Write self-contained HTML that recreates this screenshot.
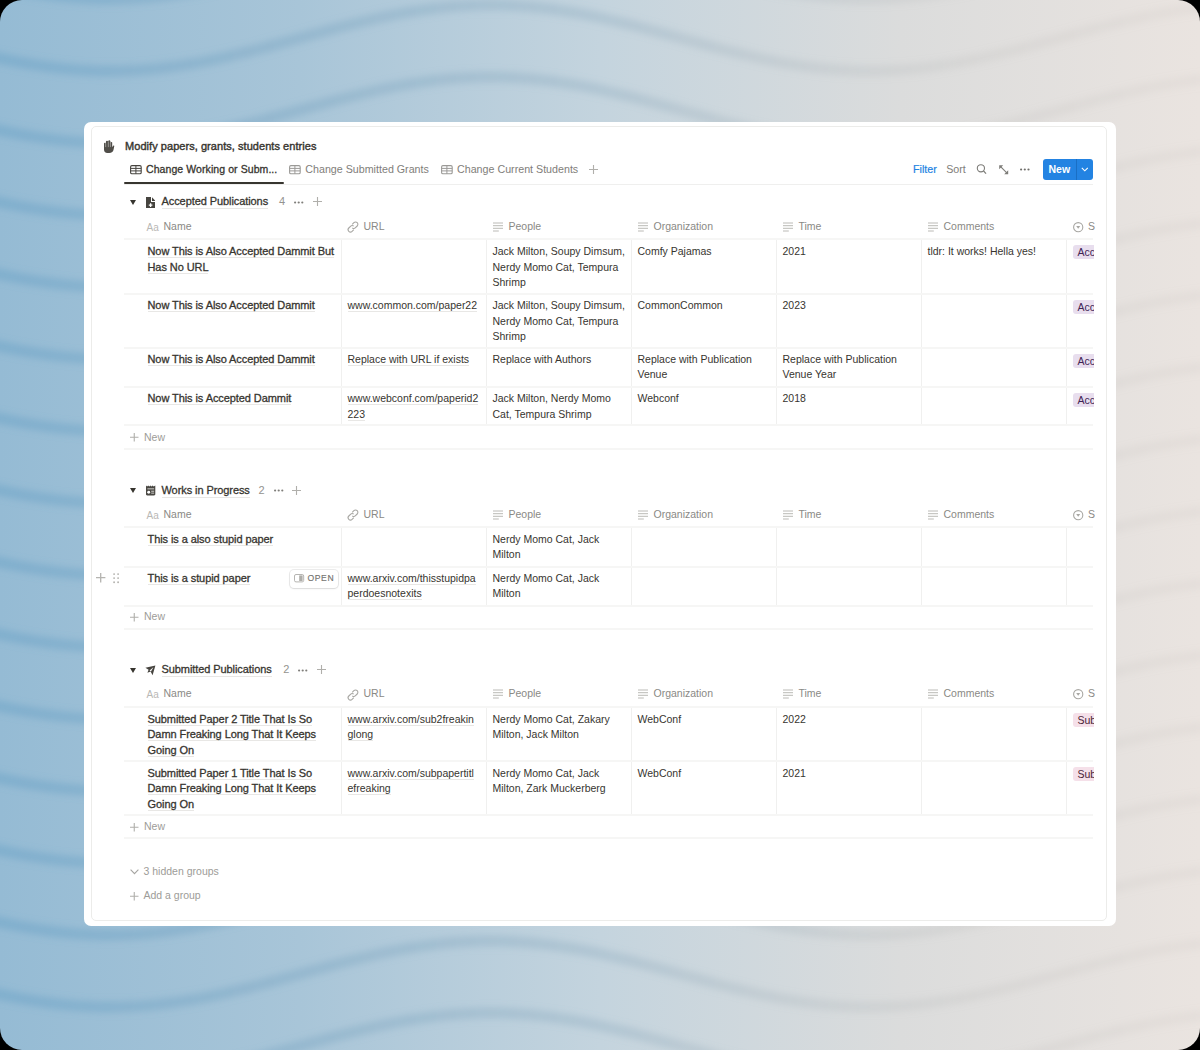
<!DOCTYPE html>
<html><head><meta charset="utf-8"><style>
*{box-sizing:border-box;margin:0;padding:0}
html,body{width:1200px;height:1050px;overflow:hidden;background:#000}
body{font-family:"Liberation Sans",sans-serif;color:#37352f;position:relative}
#frame{position:absolute;left:0;top:0;width:1200px;height:1050px;border-radius:22px;overflow:hidden}
.card{position:absolute;left:84px;top:122px;width:1032px;height:804px;background:#fff;border-radius:7px}
.inner{position:absolute;left:91px;top:126px;width:1016px;height:795px;border:1px solid #ececea;border-radius:5px}
.a{position:absolute;white-space:nowrap}
.t{font-size:10.5px;line-height:15.5px;color:#37352f}
.b{font-size:11px;line-height:15.5px;color:#37352f;-webkit-text-stroke-width:0.3px;letter-spacing:-0.08px}
.g{color:#8a8985}
.ul{border-bottom:1px solid #e8e7e5}
.hl{position:absolute;height:2px;background:#f6f6f5}
.vl{position:absolute;width:1px;background:#f0f0ef}
.tag{position:absolute;height:14px;border-radius:3px 0 0 3px;font-size:10.5px;line-height:14px;padding-left:5px;white-space:nowrap;overflow:hidden}
svg.i{position:absolute;overflow:visible}
</style></head>
<body><div id="frame"><svg width="1200" height="1050" viewBox="0 0 1200 1050" style="position:absolute;left:0;top:0">
<defs>
<linearGradient id="g" x1="0" y1="0" x2="1" y2="0">
<stop offset="0" stop-color="#95bbd4"/>
<stop offset="0.25" stop-color="#a8c5d8"/>
<stop offset="0.5" stop-color="#c4d4de"/>
<stop offset="0.75" stop-color="#dbdcdc"/>
<stop offset="1" stop-color="#eae4e0"/>
</linearGradient>
<linearGradient id="wg" x1="0" y1="0" x2="1" y2="0">
<stop offset="0" stop-color="#5f9cc4" stop-opacity="0.40"/>
<stop offset="0.5" stop-color="#7fa0b6" stop-opacity="0.28"/>
<stop offset="0.8" stop-color="#a8a8a6" stop-opacity="0.14"/>
<stop offset="1" stop-color="#b8b0aa" stop-opacity="0.10"/>
</linearGradient>
<filter id="bl" x="-5%" y="-5%" width="110%" height="110%"><feGaussianBlur stdDeviation="3.6"/></filter>
</defs>
<rect width="1200" height="1050" fill="url(#g)"/>
<g fill="none" stroke="url(#wg)" stroke-width="11" filter="url(#bl)"><path d="M-20,-18.3 L-10,-16.0 L0,-13.7 L10,-11.6 L20,-9.7 L30,-8.0 L40,-6.4 L50,-5.0 L60,-3.8 L70,-2.8 L80,-2.0 L90,-1.5 L100,-1.1 L110,-1.0 L120,-1.1 L130,-1.5 L140,-2.0 L150,-2.8 L160,-3.8 L170,-5.0 L180,-6.4 L190,-8.0 L200,-9.7 L210,-11.6 L220,-13.7 L230,-16.0 L240,-18.3 L250,-20.7 L260,-23.3 L270,-25.9 L280,-28.6 L290,-31.3 L300,-34.0 L310,-36.7 L320,-39.4 L330,-42.1 L340,-44.7 L350,-47.3 L360,-49.7 L370,-52.0 L380,-54.3 L390,-56.4 L400,-58.3 L410,-60.0 L420,-61.6 L430,-63.0 L440,-64.2 L450,-65.2 L460,-66.0 L470,-66.5 L480,-66.9 L490,-67.0 L500,-66.9 L510,-66.5 L520,-66.0 L530,-65.2 L540,-64.2 L550,-63.0 L560,-61.6 L570,-60.0 L580,-58.3 L590,-56.4 L600,-54.3 L610,-52.0 L620,-49.7 L630,-47.3 L640,-44.7 L650,-42.1 L660,-39.4 L670,-36.7 L680,-34.0 L690,-31.3 L700,-28.6 L710,-25.9 L720,-23.3 L730,-20.7 L740,-18.3 L750,-16.0 L760,-13.7 L770,-11.6 L780,-9.7 L790,-8.0 L800,-6.4 L810,-5.0 L820,-3.8 L830,-2.8 L840,-2.0 L850,-1.5 L860,-1.1 L870,-1.0 L880,-1.1 L890,-1.5 L900,-2.0 L910,-2.8 L920,-3.8 L930,-5.0 L940,-6.4 L950,-8.0 L960,-9.7 L970,-11.6 L980,-13.7 L990,-16.0 L1000,-18.3 L1010,-20.7 L1020,-23.3 L1030,-25.9 L1040,-28.6 L1050,-31.3 L1060,-34.0 L1070,-36.7 L1080,-39.4 L1090,-42.1 L1100,-44.7 L1110,-47.3 L1120,-49.7 L1130,-52.0 L1140,-54.3 L1150,-56.4 L1160,-58.3 L1170,-60.0 L1180,-61.6 L1190,-63.0 L1200,-64.2 L1210,-65.2 L1220,-66.0"/><path d="M-20,53.7 L-10,56.0 L0,58.3 L10,60.4 L20,62.3 L30,64.0 L40,65.6 L50,67.0 L60,68.2 L70,69.2 L80,70.0 L90,70.5 L100,70.9 L110,71.0 L120,70.9 L130,70.5 L140,70.0 L150,69.2 L160,68.2 L170,67.0 L180,65.6 L190,64.0 L200,62.3 L210,60.4 L220,58.3 L230,56.0 L240,53.7 L250,51.3 L260,48.7 L270,46.1 L280,43.4 L290,40.7 L300,38.0 L310,35.3 L320,32.6 L330,29.9 L340,27.3 L350,24.7 L360,22.3 L370,20.0 L380,17.7 L390,15.6 L400,13.7 L410,12.0 L420,10.4 L430,9.0 L440,7.8 L450,6.8 L460,6.0 L470,5.5 L480,5.1 L490,5.0 L500,5.1 L510,5.5 L520,6.0 L530,6.8 L540,7.8 L550,9.0 L560,10.4 L570,12.0 L580,13.7 L590,15.6 L600,17.7 L610,20.0 L620,22.3 L630,24.7 L640,27.3 L650,29.9 L660,32.6 L670,35.3 L680,38.0 L690,40.7 L700,43.4 L710,46.1 L720,48.7 L730,51.3 L740,53.7 L750,56.0 L760,58.3 L770,60.4 L780,62.3 L790,64.0 L800,65.6 L810,67.0 L820,68.2 L830,69.2 L840,70.0 L850,70.5 L860,70.9 L870,71.0 L880,70.9 L890,70.5 L900,70.0 L910,69.2 L920,68.2 L930,67.0 L940,65.6 L950,64.0 L960,62.3 L970,60.4 L980,58.3 L990,56.0 L1000,53.7 L1010,51.3 L1020,48.7 L1030,46.1 L1040,43.4 L1050,40.7 L1060,38.0 L1070,35.3 L1080,32.6 L1090,29.9 L1100,27.3 L1110,24.7 L1120,22.3 L1130,20.0 L1140,17.7 L1150,15.6 L1160,13.7 L1170,12.0 L1180,10.4 L1190,9.0 L1200,7.8 L1210,6.8 L1220,6.0"/><path d="M-20,125.7 L-10,128.0 L0,130.3 L10,132.4 L20,134.3 L30,136.0 L40,137.6 L50,139.0 L60,140.2 L70,141.2 L80,142.0 L90,142.5 L100,142.9 L110,143.0 L120,142.9 L130,142.5 L140,142.0 L150,141.2 L160,140.2 L170,139.0 L180,137.6 L190,136.0 L200,134.3 L210,132.4 L220,130.3 L230,128.0 L240,125.7 L250,123.3 L260,120.7 L270,118.1 L280,115.4 L290,112.7 L300,110.0 L310,107.3 L320,104.6 L330,101.9 L340,99.3 L350,96.7 L360,94.3 L370,92.0 L380,89.7 L390,87.6 L400,85.7 L410,84.0 L420,82.4 L430,81.0 L440,79.8 L450,78.8 L460,78.0 L470,77.5 L480,77.1 L490,77.0 L500,77.1 L510,77.5 L520,78.0 L530,78.8 L540,79.8 L550,81.0 L560,82.4 L570,84.0 L580,85.7 L590,87.6 L600,89.7 L610,92.0 L620,94.3 L630,96.7 L640,99.3 L650,101.9 L660,104.6 L670,107.3 L680,110.0 L690,112.7 L700,115.4 L710,118.1 L720,120.7 L730,123.3 L740,125.7 L750,128.0 L760,130.3 L770,132.4 L780,134.3 L790,136.0 L800,137.6 L810,139.0 L820,140.2 L830,141.2 L840,142.0 L850,142.5 L860,142.9 L870,143.0 L880,142.9 L890,142.5 L900,142.0 L910,141.2 L920,140.2 L930,139.0 L940,137.6 L950,136.0 L960,134.3 L970,132.4 L980,130.3 L990,128.0 L1000,125.7 L1010,123.3 L1020,120.7 L1030,118.1 L1040,115.4 L1050,112.7 L1060,110.0 L1070,107.3 L1080,104.6 L1090,101.9 L1100,99.3 L1110,96.7 L1120,94.3 L1130,92.0 L1140,89.7 L1150,87.6 L1160,85.7 L1170,84.0 L1180,82.4 L1190,81.0 L1200,79.8 L1210,78.8 L1220,78.0"/><path d="M-20,197.7 L-10,200.0 L0,202.3 L10,204.4 L20,206.3 L30,208.0 L40,209.6 L50,211.0 L60,212.2 L70,213.2 L80,214.0 L90,214.5 L100,214.9 L110,215.0 L120,214.9 L130,214.5 L140,214.0 L150,213.2 L160,212.2 L170,211.0 L180,209.6 L190,208.0 L200,206.3 L210,204.4 L220,202.3 L230,200.0 L240,197.7 L250,195.3 L260,192.7 L270,190.1 L280,187.4 L290,184.7 L300,182.0 L310,179.3 L320,176.6 L330,173.9 L340,171.3 L350,168.7 L360,166.3 L370,164.0 L380,161.7 L390,159.6 L400,157.7 L410,156.0 L420,154.4 L430,153.0 L440,151.8 L450,150.8 L460,150.0 L470,149.5 L480,149.1 L490,149.0 L500,149.1 L510,149.5 L520,150.0 L530,150.8 L540,151.8 L550,153.0 L560,154.4 L570,156.0 L580,157.7 L590,159.6 L600,161.7 L610,164.0 L620,166.3 L630,168.7 L640,171.3 L650,173.9 L660,176.6 L670,179.3 L680,182.0 L690,184.7 L700,187.4 L710,190.1 L720,192.7 L730,195.3 L740,197.7 L750,200.0 L760,202.3 L770,204.4 L780,206.3 L790,208.0 L800,209.6 L810,211.0 L820,212.2 L830,213.2 L840,214.0 L850,214.5 L860,214.9 L870,215.0 L880,214.9 L890,214.5 L900,214.0 L910,213.2 L920,212.2 L930,211.0 L940,209.6 L950,208.0 L960,206.3 L970,204.4 L980,202.3 L990,200.0 L1000,197.7 L1010,195.3 L1020,192.7 L1030,190.1 L1040,187.4 L1050,184.7 L1060,182.0 L1070,179.3 L1080,176.6 L1090,173.9 L1100,171.3 L1110,168.7 L1120,166.3 L1130,164.0 L1140,161.7 L1150,159.6 L1160,157.7 L1170,156.0 L1180,154.4 L1190,153.0 L1200,151.8 L1210,150.8 L1220,150.0"/><path d="M-20,269.7 L-10,272.0 L0,274.3 L10,276.4 L20,278.3 L30,280.0 L40,281.6 L50,283.0 L60,284.2 L70,285.2 L80,286.0 L90,286.5 L100,286.9 L110,287.0 L120,286.9 L130,286.5 L140,286.0 L150,285.2 L160,284.2 L170,283.0 L180,281.6 L190,280.0 L200,278.3 L210,276.4 L220,274.3 L230,272.0 L240,269.7 L250,267.3 L260,264.7 L270,262.1 L280,259.4 L290,256.7 L300,254.0 L310,251.3 L320,248.6 L330,245.9 L340,243.3 L350,240.7 L360,238.3 L370,236.0 L380,233.7 L390,231.6 L400,229.7 L410,228.0 L420,226.4 L430,225.0 L440,223.8 L450,222.8 L460,222.0 L470,221.5 L480,221.1 L490,221.0 L500,221.1 L510,221.5 L520,222.0 L530,222.8 L540,223.8 L550,225.0 L560,226.4 L570,228.0 L580,229.7 L590,231.6 L600,233.7 L610,236.0 L620,238.3 L630,240.7 L640,243.3 L650,245.9 L660,248.6 L670,251.3 L680,254.0 L690,256.7 L700,259.4 L710,262.1 L720,264.7 L730,267.3 L740,269.7 L750,272.0 L760,274.3 L770,276.4 L780,278.3 L790,280.0 L800,281.6 L810,283.0 L820,284.2 L830,285.2 L840,286.0 L850,286.5 L860,286.9 L870,287.0 L880,286.9 L890,286.5 L900,286.0 L910,285.2 L920,284.2 L930,283.0 L940,281.6 L950,280.0 L960,278.3 L970,276.4 L980,274.3 L990,272.0 L1000,269.7 L1010,267.3 L1020,264.7 L1030,262.1 L1040,259.4 L1050,256.7 L1060,254.0 L1070,251.3 L1080,248.6 L1090,245.9 L1100,243.3 L1110,240.7 L1120,238.3 L1130,236.0 L1140,233.7 L1150,231.6 L1160,229.7 L1170,228.0 L1180,226.4 L1190,225.0 L1200,223.8 L1210,222.8 L1220,222.0"/><path d="M-20,341.7 L-10,344.0 L0,346.3 L10,348.4 L20,350.3 L30,352.0 L40,353.6 L50,355.0 L60,356.2 L70,357.2 L80,358.0 L90,358.5 L100,358.9 L110,359.0 L120,358.9 L130,358.5 L140,358.0 L150,357.2 L160,356.2 L170,355.0 L180,353.6 L190,352.0 L200,350.3 L210,348.4 L220,346.3 L230,344.0 L240,341.7 L250,339.3 L260,336.7 L270,334.1 L280,331.4 L290,328.7 L300,326.0 L310,323.3 L320,320.6 L330,317.9 L340,315.3 L350,312.7 L360,310.3 L370,308.0 L380,305.7 L390,303.6 L400,301.7 L410,300.0 L420,298.4 L430,297.0 L440,295.8 L450,294.8 L460,294.0 L470,293.5 L480,293.1 L490,293.0 L500,293.1 L510,293.5 L520,294.0 L530,294.8 L540,295.8 L550,297.0 L560,298.4 L570,300.0 L580,301.7 L590,303.6 L600,305.7 L610,308.0 L620,310.3 L630,312.7 L640,315.3 L650,317.9 L660,320.6 L670,323.3 L680,326.0 L690,328.7 L700,331.4 L710,334.1 L720,336.7 L730,339.3 L740,341.7 L750,344.0 L760,346.3 L770,348.4 L780,350.3 L790,352.0 L800,353.6 L810,355.0 L820,356.2 L830,357.2 L840,358.0 L850,358.5 L860,358.9 L870,359.0 L880,358.9 L890,358.5 L900,358.0 L910,357.2 L920,356.2 L930,355.0 L940,353.6 L950,352.0 L960,350.3 L970,348.4 L980,346.3 L990,344.0 L1000,341.7 L1010,339.3 L1020,336.7 L1030,334.1 L1040,331.4 L1050,328.7 L1060,326.0 L1070,323.3 L1080,320.6 L1090,317.9 L1100,315.3 L1110,312.7 L1120,310.3 L1130,308.0 L1140,305.7 L1150,303.6 L1160,301.7 L1170,300.0 L1180,298.4 L1190,297.0 L1200,295.8 L1210,294.8 L1220,294.0"/><path d="M-20,413.7 L-10,416.0 L0,418.3 L10,420.4 L20,422.3 L30,424.0 L40,425.6 L50,427.0 L60,428.2 L70,429.2 L80,430.0 L90,430.5 L100,430.9 L110,431.0 L120,430.9 L130,430.5 L140,430.0 L150,429.2 L160,428.2 L170,427.0 L180,425.6 L190,424.0 L200,422.3 L210,420.4 L220,418.3 L230,416.0 L240,413.7 L250,411.3 L260,408.7 L270,406.1 L280,403.4 L290,400.7 L300,398.0 L310,395.3 L320,392.6 L330,389.9 L340,387.3 L350,384.7 L360,382.3 L370,380.0 L380,377.7 L390,375.6 L400,373.7 L410,372.0 L420,370.4 L430,369.0 L440,367.8 L450,366.8 L460,366.0 L470,365.5 L480,365.1 L490,365.0 L500,365.1 L510,365.5 L520,366.0 L530,366.8 L540,367.8 L550,369.0 L560,370.4 L570,372.0 L580,373.7 L590,375.6 L600,377.7 L610,380.0 L620,382.3 L630,384.7 L640,387.3 L650,389.9 L660,392.6 L670,395.3 L680,398.0 L690,400.7 L700,403.4 L710,406.1 L720,408.7 L730,411.3 L740,413.7 L750,416.0 L760,418.3 L770,420.4 L780,422.3 L790,424.0 L800,425.6 L810,427.0 L820,428.2 L830,429.2 L840,430.0 L850,430.5 L860,430.9 L870,431.0 L880,430.9 L890,430.5 L900,430.0 L910,429.2 L920,428.2 L930,427.0 L940,425.6 L950,424.0 L960,422.3 L970,420.4 L980,418.3 L990,416.0 L1000,413.7 L1010,411.3 L1020,408.7 L1030,406.1 L1040,403.4 L1050,400.7 L1060,398.0 L1070,395.3 L1080,392.6 L1090,389.9 L1100,387.3 L1110,384.7 L1120,382.3 L1130,380.0 L1140,377.7 L1150,375.6 L1160,373.7 L1170,372.0 L1180,370.4 L1190,369.0 L1200,367.8 L1210,366.8 L1220,366.0"/><path d="M-20,485.7 L-10,488.0 L0,490.3 L10,492.4 L20,494.3 L30,496.0 L40,497.6 L50,499.0 L60,500.2 L70,501.2 L80,502.0 L90,502.5 L100,502.9 L110,503.0 L120,502.9 L130,502.5 L140,502.0 L150,501.2 L160,500.2 L170,499.0 L180,497.6 L190,496.0 L200,494.3 L210,492.4 L220,490.3 L230,488.0 L240,485.7 L250,483.3 L260,480.7 L270,478.1 L280,475.4 L290,472.7 L300,470.0 L310,467.3 L320,464.6 L330,461.9 L340,459.3 L350,456.7 L360,454.3 L370,452.0 L380,449.7 L390,447.6 L400,445.7 L410,444.0 L420,442.4 L430,441.0 L440,439.8 L450,438.8 L460,438.0 L470,437.5 L480,437.1 L490,437.0 L500,437.1 L510,437.5 L520,438.0 L530,438.8 L540,439.8 L550,441.0 L560,442.4 L570,444.0 L580,445.7 L590,447.6 L600,449.7 L610,452.0 L620,454.3 L630,456.7 L640,459.3 L650,461.9 L660,464.6 L670,467.3 L680,470.0 L690,472.7 L700,475.4 L710,478.1 L720,480.7 L730,483.3 L740,485.7 L750,488.0 L760,490.3 L770,492.4 L780,494.3 L790,496.0 L800,497.6 L810,499.0 L820,500.2 L830,501.2 L840,502.0 L850,502.5 L860,502.9 L870,503.0 L880,502.9 L890,502.5 L900,502.0 L910,501.2 L920,500.2 L930,499.0 L940,497.6 L950,496.0 L960,494.3 L970,492.4 L980,490.3 L990,488.0 L1000,485.7 L1010,483.3 L1020,480.7 L1030,478.1 L1040,475.4 L1050,472.7 L1060,470.0 L1070,467.3 L1080,464.6 L1090,461.9 L1100,459.3 L1110,456.7 L1120,454.3 L1130,452.0 L1140,449.7 L1150,447.6 L1160,445.7 L1170,444.0 L1180,442.4 L1190,441.0 L1200,439.8 L1210,438.8 L1220,438.0"/><path d="M-20,557.7 L-10,560.0 L0,562.3 L10,564.4 L20,566.3 L30,568.0 L40,569.6 L50,571.0 L60,572.2 L70,573.2 L80,574.0 L90,574.5 L100,574.9 L110,575.0 L120,574.9 L130,574.5 L140,574.0 L150,573.2 L160,572.2 L170,571.0 L180,569.6 L190,568.0 L200,566.3 L210,564.4 L220,562.3 L230,560.0 L240,557.7 L250,555.3 L260,552.7 L270,550.1 L280,547.4 L290,544.7 L300,542.0 L310,539.3 L320,536.6 L330,533.9 L340,531.3 L350,528.7 L360,526.3 L370,524.0 L380,521.7 L390,519.6 L400,517.7 L410,516.0 L420,514.4 L430,513.0 L440,511.8 L450,510.8 L460,510.0 L470,509.5 L480,509.1 L490,509.0 L500,509.1 L510,509.5 L520,510.0 L530,510.8 L540,511.8 L550,513.0 L560,514.4 L570,516.0 L580,517.7 L590,519.6 L600,521.7 L610,524.0 L620,526.3 L630,528.7 L640,531.3 L650,533.9 L660,536.6 L670,539.3 L680,542.0 L690,544.7 L700,547.4 L710,550.1 L720,552.7 L730,555.3 L740,557.7 L750,560.0 L760,562.3 L770,564.4 L780,566.3 L790,568.0 L800,569.6 L810,571.0 L820,572.2 L830,573.2 L840,574.0 L850,574.5 L860,574.9 L870,575.0 L880,574.9 L890,574.5 L900,574.0 L910,573.2 L920,572.2 L930,571.0 L940,569.6 L950,568.0 L960,566.3 L970,564.4 L980,562.3 L990,560.0 L1000,557.7 L1010,555.3 L1020,552.7 L1030,550.1 L1040,547.4 L1050,544.7 L1060,542.0 L1070,539.3 L1080,536.6 L1090,533.9 L1100,531.3 L1110,528.7 L1120,526.3 L1130,524.0 L1140,521.7 L1150,519.6 L1160,517.7 L1170,516.0 L1180,514.4 L1190,513.0 L1200,511.8 L1210,510.8 L1220,510.0"/><path d="M-20,629.7 L-10,632.0 L0,634.3 L10,636.4 L20,638.3 L30,640.0 L40,641.6 L50,643.0 L60,644.2 L70,645.2 L80,646.0 L90,646.5 L100,646.9 L110,647.0 L120,646.9 L130,646.5 L140,646.0 L150,645.2 L160,644.2 L170,643.0 L180,641.6 L190,640.0 L200,638.3 L210,636.4 L220,634.3 L230,632.0 L240,629.7 L250,627.3 L260,624.7 L270,622.1 L280,619.4 L290,616.7 L300,614.0 L310,611.3 L320,608.6 L330,605.9 L340,603.3 L350,600.7 L360,598.3 L370,596.0 L380,593.7 L390,591.6 L400,589.7 L410,588.0 L420,586.4 L430,585.0 L440,583.8 L450,582.8 L460,582.0 L470,581.5 L480,581.1 L490,581.0 L500,581.1 L510,581.5 L520,582.0 L530,582.8 L540,583.8 L550,585.0 L560,586.4 L570,588.0 L580,589.7 L590,591.6 L600,593.7 L610,596.0 L620,598.3 L630,600.7 L640,603.3 L650,605.9 L660,608.6 L670,611.3 L680,614.0 L690,616.7 L700,619.4 L710,622.1 L720,624.7 L730,627.3 L740,629.7 L750,632.0 L760,634.3 L770,636.4 L780,638.3 L790,640.0 L800,641.6 L810,643.0 L820,644.2 L830,645.2 L840,646.0 L850,646.5 L860,646.9 L870,647.0 L880,646.9 L890,646.5 L900,646.0 L910,645.2 L920,644.2 L930,643.0 L940,641.6 L950,640.0 L960,638.3 L970,636.4 L980,634.3 L990,632.0 L1000,629.7 L1010,627.3 L1020,624.7 L1030,622.1 L1040,619.4 L1050,616.7 L1060,614.0 L1070,611.3 L1080,608.6 L1090,605.9 L1100,603.3 L1110,600.7 L1120,598.3 L1130,596.0 L1140,593.7 L1150,591.6 L1160,589.7 L1170,588.0 L1180,586.4 L1190,585.0 L1200,583.8 L1210,582.8 L1220,582.0"/><path d="M-20,701.7 L-10,704.0 L0,706.3 L10,708.4 L20,710.3 L30,712.0 L40,713.6 L50,715.0 L60,716.2 L70,717.2 L80,718.0 L90,718.5 L100,718.9 L110,719.0 L120,718.9 L130,718.5 L140,718.0 L150,717.2 L160,716.2 L170,715.0 L180,713.6 L190,712.0 L200,710.3 L210,708.4 L220,706.3 L230,704.0 L240,701.7 L250,699.3 L260,696.7 L270,694.1 L280,691.4 L290,688.7 L300,686.0 L310,683.3 L320,680.6 L330,677.9 L340,675.3 L350,672.7 L360,670.3 L370,668.0 L380,665.7 L390,663.6 L400,661.7 L410,660.0 L420,658.4 L430,657.0 L440,655.8 L450,654.8 L460,654.0 L470,653.5 L480,653.1 L490,653.0 L500,653.1 L510,653.5 L520,654.0 L530,654.8 L540,655.8 L550,657.0 L560,658.4 L570,660.0 L580,661.7 L590,663.6 L600,665.7 L610,668.0 L620,670.3 L630,672.7 L640,675.3 L650,677.9 L660,680.6 L670,683.3 L680,686.0 L690,688.7 L700,691.4 L710,694.1 L720,696.7 L730,699.3 L740,701.7 L750,704.0 L760,706.3 L770,708.4 L780,710.3 L790,712.0 L800,713.6 L810,715.0 L820,716.2 L830,717.2 L840,718.0 L850,718.5 L860,718.9 L870,719.0 L880,718.9 L890,718.5 L900,718.0 L910,717.2 L920,716.2 L930,715.0 L940,713.6 L950,712.0 L960,710.3 L970,708.4 L980,706.3 L990,704.0 L1000,701.7 L1010,699.3 L1020,696.7 L1030,694.1 L1040,691.4 L1050,688.7 L1060,686.0 L1070,683.3 L1080,680.6 L1090,677.9 L1100,675.3 L1110,672.7 L1120,670.3 L1130,668.0 L1140,665.7 L1150,663.6 L1160,661.7 L1170,660.0 L1180,658.4 L1190,657.0 L1200,655.8 L1210,654.8 L1220,654.0"/><path d="M-20,773.7 L-10,776.0 L0,778.3 L10,780.4 L20,782.3 L30,784.0 L40,785.6 L50,787.0 L60,788.2 L70,789.2 L80,790.0 L90,790.5 L100,790.9 L110,791.0 L120,790.9 L130,790.5 L140,790.0 L150,789.2 L160,788.2 L170,787.0 L180,785.6 L190,784.0 L200,782.3 L210,780.4 L220,778.3 L230,776.0 L240,773.7 L250,771.3 L260,768.7 L270,766.1 L280,763.4 L290,760.7 L300,758.0 L310,755.3 L320,752.6 L330,749.9 L340,747.3 L350,744.7 L360,742.3 L370,740.0 L380,737.7 L390,735.6 L400,733.7 L410,732.0 L420,730.4 L430,729.0 L440,727.8 L450,726.8 L460,726.0 L470,725.5 L480,725.1 L490,725.0 L500,725.1 L510,725.5 L520,726.0 L530,726.8 L540,727.8 L550,729.0 L560,730.4 L570,732.0 L580,733.7 L590,735.6 L600,737.7 L610,740.0 L620,742.3 L630,744.7 L640,747.3 L650,749.9 L660,752.6 L670,755.3 L680,758.0 L690,760.7 L700,763.4 L710,766.1 L720,768.7 L730,771.3 L740,773.7 L750,776.0 L760,778.3 L770,780.4 L780,782.3 L790,784.0 L800,785.6 L810,787.0 L820,788.2 L830,789.2 L840,790.0 L850,790.5 L860,790.9 L870,791.0 L880,790.9 L890,790.5 L900,790.0 L910,789.2 L920,788.2 L930,787.0 L940,785.6 L950,784.0 L960,782.3 L970,780.4 L980,778.3 L990,776.0 L1000,773.7 L1010,771.3 L1020,768.7 L1030,766.1 L1040,763.4 L1050,760.7 L1060,758.0 L1070,755.3 L1080,752.6 L1090,749.9 L1100,747.3 L1110,744.7 L1120,742.3 L1130,740.0 L1140,737.7 L1150,735.6 L1160,733.7 L1170,732.0 L1180,730.4 L1190,729.0 L1200,727.8 L1210,726.8 L1220,726.0"/><path d="M-20,845.7 L-10,848.0 L0,850.3 L10,852.4 L20,854.3 L30,856.0 L40,857.6 L50,859.0 L60,860.2 L70,861.2 L80,862.0 L90,862.5 L100,862.9 L110,863.0 L120,862.9 L130,862.5 L140,862.0 L150,861.2 L160,860.2 L170,859.0 L180,857.6 L190,856.0 L200,854.3 L210,852.4 L220,850.3 L230,848.0 L240,845.7 L250,843.3 L260,840.7 L270,838.1 L280,835.4 L290,832.7 L300,830.0 L310,827.3 L320,824.6 L330,821.9 L340,819.3 L350,816.7 L360,814.3 L370,812.0 L380,809.7 L390,807.6 L400,805.7 L410,804.0 L420,802.4 L430,801.0 L440,799.8 L450,798.8 L460,798.0 L470,797.5 L480,797.1 L490,797.0 L500,797.1 L510,797.5 L520,798.0 L530,798.8 L540,799.8 L550,801.0 L560,802.4 L570,804.0 L580,805.7 L590,807.6 L600,809.7 L610,812.0 L620,814.3 L630,816.7 L640,819.3 L650,821.9 L660,824.6 L670,827.3 L680,830.0 L690,832.7 L700,835.4 L710,838.1 L720,840.7 L730,843.3 L740,845.7 L750,848.0 L760,850.3 L770,852.4 L780,854.3 L790,856.0 L800,857.6 L810,859.0 L820,860.2 L830,861.2 L840,862.0 L850,862.5 L860,862.9 L870,863.0 L880,862.9 L890,862.5 L900,862.0 L910,861.2 L920,860.2 L930,859.0 L940,857.6 L950,856.0 L960,854.3 L970,852.4 L980,850.3 L990,848.0 L1000,845.7 L1010,843.3 L1020,840.7 L1030,838.1 L1040,835.4 L1050,832.7 L1060,830.0 L1070,827.3 L1080,824.6 L1090,821.9 L1100,819.3 L1110,816.7 L1120,814.3 L1130,812.0 L1140,809.7 L1150,807.6 L1160,805.7 L1170,804.0 L1180,802.4 L1190,801.0 L1200,799.8 L1210,798.8 L1220,798.0"/><path d="M-20,917.7 L-10,920.0 L0,922.3 L10,924.4 L20,926.3 L30,928.0 L40,929.6 L50,931.0 L60,932.2 L70,933.2 L80,934.0 L90,934.5 L100,934.9 L110,935.0 L120,934.9 L130,934.5 L140,934.0 L150,933.2 L160,932.2 L170,931.0 L180,929.6 L190,928.0 L200,926.3 L210,924.4 L220,922.3 L230,920.0 L240,917.7 L250,915.3 L260,912.7 L270,910.1 L280,907.4 L290,904.7 L300,902.0 L310,899.3 L320,896.6 L330,893.9 L340,891.3 L350,888.7 L360,886.3 L370,884.0 L380,881.7 L390,879.6 L400,877.7 L410,876.0 L420,874.4 L430,873.0 L440,871.8 L450,870.8 L460,870.0 L470,869.5 L480,869.1 L490,869.0 L500,869.1 L510,869.5 L520,870.0 L530,870.8 L540,871.8 L550,873.0 L560,874.4 L570,876.0 L580,877.7 L590,879.6 L600,881.7 L610,884.0 L620,886.3 L630,888.7 L640,891.3 L650,893.9 L660,896.6 L670,899.3 L680,902.0 L690,904.7 L700,907.4 L710,910.1 L720,912.7 L730,915.3 L740,917.7 L750,920.0 L760,922.3 L770,924.4 L780,926.3 L790,928.0 L800,929.6 L810,931.0 L820,932.2 L830,933.2 L840,934.0 L850,934.5 L860,934.9 L870,935.0 L880,934.9 L890,934.5 L900,934.0 L910,933.2 L920,932.2 L930,931.0 L940,929.6 L950,928.0 L960,926.3 L970,924.4 L980,922.3 L990,920.0 L1000,917.7 L1010,915.3 L1020,912.7 L1030,910.1 L1040,907.4 L1050,904.7 L1060,902.0 L1070,899.3 L1080,896.6 L1090,893.9 L1100,891.3 L1110,888.7 L1120,886.3 L1130,884.0 L1140,881.7 L1150,879.6 L1160,877.7 L1170,876.0 L1180,874.4 L1190,873.0 L1200,871.8 L1210,870.8 L1220,870.0"/><path d="M-20,989.7 L-10,992.0 L0,994.3 L10,996.4 L20,998.3 L30,1000.0 L40,1001.6 L50,1003.0 L60,1004.2 L70,1005.2 L80,1006.0 L90,1006.5 L100,1006.9 L110,1007.0 L120,1006.9 L130,1006.5 L140,1006.0 L150,1005.2 L160,1004.2 L170,1003.0 L180,1001.6 L190,1000.0 L200,998.3 L210,996.4 L220,994.3 L230,992.0 L240,989.7 L250,987.3 L260,984.7 L270,982.1 L280,979.4 L290,976.7 L300,974.0 L310,971.3 L320,968.6 L330,965.9 L340,963.3 L350,960.7 L360,958.3 L370,956.0 L380,953.7 L390,951.6 L400,949.7 L410,948.0 L420,946.4 L430,945.0 L440,943.8 L450,942.8 L460,942.0 L470,941.5 L480,941.1 L490,941.0 L500,941.1 L510,941.5 L520,942.0 L530,942.8 L540,943.8 L550,945.0 L560,946.4 L570,948.0 L580,949.7 L590,951.6 L600,953.7 L610,956.0 L620,958.3 L630,960.7 L640,963.3 L650,965.9 L660,968.6 L670,971.3 L680,974.0 L690,976.7 L700,979.4 L710,982.1 L720,984.7 L730,987.3 L740,989.7 L750,992.0 L760,994.3 L770,996.4 L780,998.3 L790,1000.0 L800,1001.6 L810,1003.0 L820,1004.2 L830,1005.2 L840,1006.0 L850,1006.5 L860,1006.9 L870,1007.0 L880,1006.9 L890,1006.5 L900,1006.0 L910,1005.2 L920,1004.2 L930,1003.0 L940,1001.6 L950,1000.0 L960,998.3 L970,996.4 L980,994.3 L990,992.0 L1000,989.7 L1010,987.3 L1020,984.7 L1030,982.1 L1040,979.4 L1050,976.7 L1060,974.0 L1070,971.3 L1080,968.6 L1090,965.9 L1100,963.3 L1110,960.7 L1120,958.3 L1130,956.0 L1140,953.7 L1150,951.6 L1160,949.7 L1170,948.0 L1180,946.4 L1190,945.0 L1200,943.8 L1210,942.8 L1220,942.0"/><path d="M-20,1061.7 L-10,1064.0 L0,1066.3 L10,1068.4 L20,1070.3 L30,1072.0 L40,1073.6 L50,1075.0 L60,1076.2 L70,1077.2 L80,1078.0 L90,1078.5 L100,1078.9 L110,1079.0 L120,1078.9 L130,1078.5 L140,1078.0 L150,1077.2 L160,1076.2 L170,1075.0 L180,1073.6 L190,1072.0 L200,1070.3 L210,1068.4 L220,1066.3 L230,1064.0 L240,1061.7 L250,1059.3 L260,1056.7 L270,1054.1 L280,1051.4 L290,1048.7 L300,1046.0 L310,1043.3 L320,1040.6 L330,1037.9 L340,1035.3 L350,1032.7 L360,1030.3 L370,1028.0 L380,1025.7 L390,1023.6 L400,1021.7 L410,1020.0 L420,1018.4 L430,1017.0 L440,1015.8 L450,1014.8 L460,1014.0 L470,1013.5 L480,1013.1 L490,1013.0 L500,1013.1 L510,1013.5 L520,1014.0 L530,1014.8 L540,1015.8 L550,1017.0 L560,1018.4 L570,1020.0 L580,1021.7 L590,1023.6 L600,1025.7 L610,1028.0 L620,1030.3 L630,1032.7 L640,1035.3 L650,1037.9 L660,1040.6 L670,1043.3 L680,1046.0 L690,1048.7 L700,1051.4 L710,1054.1 L720,1056.7 L730,1059.3 L740,1061.7 L750,1064.0 L760,1066.3 L770,1068.4 L780,1070.3 L790,1072.0 L800,1073.6 L810,1075.0 L820,1076.2 L830,1077.2 L840,1078.0 L850,1078.5 L860,1078.9 L870,1079.0 L880,1078.9 L890,1078.5 L900,1078.0 L910,1077.2 L920,1076.2 L930,1075.0 L940,1073.6 L950,1072.0 L960,1070.3 L970,1068.4 L980,1066.3 L990,1064.0 L1000,1061.7 L1010,1059.3 L1020,1056.7 L1030,1054.1 L1040,1051.4 L1050,1048.7 L1060,1046.0 L1070,1043.3 L1080,1040.6 L1090,1037.9 L1100,1035.3 L1110,1032.7 L1120,1030.3 L1130,1028.0 L1140,1025.7 L1150,1023.6 L1160,1021.7 L1170,1020.0 L1180,1018.4 L1190,1017.0 L1200,1015.8 L1210,1014.8 L1220,1014.0"/><path d="M-20,1133.7 L-10,1136.0 L0,1138.3 L10,1140.4 L20,1142.3 L30,1144.0 L40,1145.6 L50,1147.0 L60,1148.2 L70,1149.2 L80,1150.0 L90,1150.5 L100,1150.9 L110,1151.0 L120,1150.9 L130,1150.5 L140,1150.0 L150,1149.2 L160,1148.2 L170,1147.0 L180,1145.6 L190,1144.0 L200,1142.3 L210,1140.4 L220,1138.3 L230,1136.0 L240,1133.7 L250,1131.3 L260,1128.7 L270,1126.1 L280,1123.4 L290,1120.7 L300,1118.0 L310,1115.3 L320,1112.6 L330,1109.9 L340,1107.3 L350,1104.7 L360,1102.3 L370,1100.0 L380,1097.7 L390,1095.6 L400,1093.7 L410,1092.0 L420,1090.4 L430,1089.0 L440,1087.8 L450,1086.8 L460,1086.0 L470,1085.5 L480,1085.1 L490,1085.0 L500,1085.1 L510,1085.5 L520,1086.0 L530,1086.8 L540,1087.8 L550,1089.0 L560,1090.4 L570,1092.0 L580,1093.7 L590,1095.6 L600,1097.7 L610,1100.0 L620,1102.3 L630,1104.7 L640,1107.3 L650,1109.9 L660,1112.6 L670,1115.3 L680,1118.0 L690,1120.7 L700,1123.4 L710,1126.1 L720,1128.7 L730,1131.3 L740,1133.7 L750,1136.0 L760,1138.3 L770,1140.4 L780,1142.3 L790,1144.0 L800,1145.6 L810,1147.0 L820,1148.2 L830,1149.2 L840,1150.0 L850,1150.5 L860,1150.9 L870,1151.0 L880,1150.9 L890,1150.5 L900,1150.0 L910,1149.2 L920,1148.2 L930,1147.0 L940,1145.6 L950,1144.0 L960,1142.3 L970,1140.4 L980,1138.3 L990,1136.0 L1000,1133.7 L1010,1131.3 L1020,1128.7 L1030,1126.1 L1040,1123.4 L1050,1120.7 L1060,1118.0 L1070,1115.3 L1080,1112.6 L1090,1109.9 L1100,1107.3 L1110,1104.7 L1120,1102.3 L1130,1100.0 L1140,1097.7 L1150,1095.6 L1160,1093.7 L1170,1092.0 L1180,1090.4 L1190,1089.0 L1200,1087.8 L1210,1086.8 L1220,1086.0"/></g>
</svg>
<div class="card"></div><div class="inner"></div>
<svg class="i" style="left:103px;top:139px" width="12" height="15" viewBox="0 0 12 15">
<g fill="#504e49">
<rect x="1.0" y="3.8" width="1.7" height="7" rx="0.85"/>
<rect x="2.9" y="1.8" width="2.2" height="8" rx="1.1"/>
<rect x="5.3" y="1.3" width="2.0" height="8" rx="1.0"/>
<rect x="7.4" y="2.9" width="1.8" height="7" rx="0.9"/>
<path d="M1.0 8 H9.2 L10.2 6.8 C10.7 6.2 11.4 6.3 11.3 7.1 L10.6 10.6 C10.2 12.8 8.8 14.1 6.2 14.1 H4.4 C2.2 14.1 1.0 12.7 1.0 10.6 Z"/>
</g>
<path d="M2.8 4.5 V8.2 M5.2 2.8 V8.2 M7.35 3.5 V8.2" stroke="#a8a6a1" stroke-width="0.45"/>
</svg><div class="a b" style="left:125px;top:139px;letter-spacing:0.05px;-webkit-text-stroke-width:0.4px">Modify papers, grants, students entries</div><svg class="i" style="left:130px;top:165px" width="12" height="10" viewBox="0 0 12 10">
<rect x="0.6" y="0.6" width="10.6" height="8.2" rx="1.3" fill="none" stroke="#46443f" stroke-width="1.1"/>
<path d="M5.9 0.6 V8.8 M0.6 3.4 H11.2 M0.6 5.9 H11.2" stroke="#46443f" stroke-width="1"/>
</svg><div class="a b" style="left:146px;top:162px;font-size:10.5px;letter-spacing:0.08px">Change Working or Subm...</div><div class="a" style="left:124px;top:182px;width:160px;height:2px;background:#37352f;border-radius:1px"></div><svg class="i" style="left:289px;top:165px" width="12" height="10" viewBox="0 0 12 10">
<rect x="0.6" y="0.6" width="10.6" height="8.2" rx="1.3" fill="none" stroke="#9b9a97" stroke-width="1.1"/>
<path d="M5.9 0.6 V8.8 M0.6 3.4 H11.2 M0.6 5.9 H11.2" stroke="#9b9a97" stroke-width="1"/>
</svg><div class="a t g" style="left:305.3px;top:162px;font-size:10.7px;color:#7f7e7a">Change Submitted Grants</div><svg class="i" style="left:441px;top:165px" width="12" height="10" viewBox="0 0 12 10">
<rect x="0.6" y="0.6" width="10.6" height="8.2" rx="1.3" fill="none" stroke="#9b9a97" stroke-width="1.1"/>
<path d="M5.9 0.6 V8.8 M0.6 3.4 H11.2 M0.6 5.9 H11.2" stroke="#9b9a97" stroke-width="1"/>
</svg><div class="a t g" style="left:457px;top:162px;font-size:10.7px;color:#7f7e7a">Change Current Students</div><svg class="i" style="left:589px;top:165px" width="9" height="9" viewBox="0 0 9 9"><path d="M4.5 0 V9 M0 4.5 H9" stroke="#b0afab" stroke-width="1.1"/></svg><div class="a" style="left:124px;top:184px;width:969px;height:1px;background:#efefee"></div><div class="a t" style="left:913px;top:162px;color:#2383e2;font-size:10.7px;-webkit-text-stroke-width:0.2px">Filter</div><div class="a t g" style="left:946.2px;top:162px;font-size:10.7px;color:#7f7e7a">Sort</div><svg class="i" style="left:976px;top:164px" width="12" height="11" viewBox="0 0 12 11">
<circle cx="4.9" cy="4.3" r="3.6" fill="none" stroke="#7d7c78" stroke-width="1.1"/><path d="M7.5 6.9 L10 9.6" stroke="#7d7c78" stroke-width="1.3"/></svg><svg class="i" style="left:999px;top:165px" width="10" height="10" viewBox="0 0 10 10">
<path d="M1.6 1.6 L7.8 7.8" fill="none" stroke="#7d7c78" stroke-width="1.1"/><path d="M0.2 0.2 H4.2 L0.2 4.2 Z M9.2 9.2 H5.2 L9.2 5.2 Z" fill="#7d7c78"/></svg><svg class="i" style="left:1020.4px;top:168px" width="12" height="3" viewBox="0 0 12 3"><circle cx="1.1" cy="1.5" r="1.1" fill="#6f6e6a"/><circle cx="4.800000000000001" cy="1.5" r="1.1" fill="#6f6e6a"/><circle cx="8.5" cy="1.5" r="1.1" fill="#6f6e6a"/></svg><div class="a" style="left:1043px;top:159px;width:50px;height:21px;background:#2383e2;border-radius:3px"></div><div class="a" style="left:1076px;top:159px;width:1px;height:21px;background:#1a6fc4"></div><div class="a t" style="left:1048.5px;top:162px;color:#fff;font-size:10.5px;font-weight:700">New</div><svg class="i" style="left:1081px;top:167px" width="8" height="5" viewBox="0 0 8 5"><path d="M0.8 0.8 L3.8 3.8 L6.8 0.8" fill="none" stroke="#fff" stroke-width="1.1"/></svg><svg class="i" style="left:130px;top:200.0px" width="6" height="5" viewBox="0 0 6 5"><path d="M0 0 H6 L3 5 Z" fill="#37352f"/></svg><svg class="i" style="left:146px;top:197px" width="9" height="11" viewBox="0 0 9 11">
<path d="M0.3 0 H5 V5 H9 V10.7 C9 10.9 8.9 11 8.7 11 H0.3 C0.1 11 0 10.9 0 10.7 V0.3 C0 0.1 0.1 0 0.3 0 Z" fill="#46443f"/><path d="M6 0.2 L9 3.6 V4 H6 Z" fill="#46443f"/>
<path d="M4.6 6.3 V9.9 M2.8 8.1 H6.4" stroke="#fff" stroke-width="1.3"/></svg><div class="a b" style="left:161.5px;top:194.2px;"><span class="ul" style="padding-bottom:1px">Accepted Publications</span></div><div class="a t g" style="left:279px;top:194.2px;color:#94938f;font-size:11px">4</div><svg class="i" style="left:293.5px;top:201.0px" width="12" height="3" viewBox="0 0 12 3"><circle cx="1.1" cy="1.5" r="1.1" fill="#7f7e7a"/><circle cx="4.7" cy="1.5" r="1.1" fill="#7f7e7a"/><circle cx="8.3" cy="1.5" r="1.1" fill="#7f7e7a"/></svg><svg class="i" style="left:312.5px;top:197.2px" width="9" height="9" viewBox="0 0 9 9"><path d="M4.5 0 V9 M0 4.5 H9" stroke="#b0afab" stroke-width="1.1"/></svg><div class="a" style="left:146.5px;top:219.9px;font-size:10px;line-height:15.5px;color:#b9b8b5">Aa</div><div class="a t g" style="left:163.5px;top:218.9px;">Name</div><svg class="i" style="left:347px;top:221.4px" width="12" height="12" viewBox="0 0 12 12">
<path d="M5.2 3.4 L6.9 1.7 C7.8 0.8 9.3 0.8 10.2 1.7 C11.1 2.6 11.1 4.1 10.2 5 L8.5 6.7 C7.6 7.6 6.2 7.6 5.3 6.8" fill="none" stroke="#a8a7a3" stroke-width="1.1"/>
<path d="M6.8 8.6 L5.1 10.3 C4.2 11.2 2.7 11.2 1.8 10.3 C0.9 9.4 0.9 7.9 1.8 7 L3.5 5.3 C4.4 4.4 5.8 4.4 6.7 5.2" fill="none" stroke="#a8a7a3" stroke-width="1.1"/></svg><div class="a t g" style="left:363.5px;top:218.9px;">URL</div><svg class="i" style="left:493px;top:222.1px" width="11" height="10" viewBox="0 0 11 10">
<path d="M0 1 H10 M0 3.7 H10 M0 6.3 H10 M0 9 H5.8" stroke="#b3b2ae" stroke-width="0.9"/></svg><div class="a t g" style="left:508.5px;top:218.9px;">People</div><svg class="i" style="left:638px;top:222.1px" width="11" height="10" viewBox="0 0 11 10">
<path d="M0 1 H10 M0 3.7 H10 M0 6.3 H10 M0 9 H5.8" stroke="#b3b2ae" stroke-width="0.9"/></svg><div class="a t g" style="left:653.5px;top:218.9px;">Organization</div><svg class="i" style="left:783px;top:222.1px" width="11" height="10" viewBox="0 0 11 10">
<path d="M0 1 H10 M0 3.7 H10 M0 6.3 H10 M0 9 H5.8" stroke="#b3b2ae" stroke-width="0.9"/></svg><div class="a t g" style="left:798.5px;top:218.9px;">Time</div><svg class="i" style="left:928px;top:222.1px" width="11" height="10" viewBox="0 0 11 10">
<path d="M0 1 H10 M0 3.7 H10 M0 6.3 H10 M0 9 H5.8" stroke="#b3b2ae" stroke-width="0.9"/></svg><div class="a t g" style="left:943.5px;top:218.9px;">Comments</div><svg class="i" style="left:1072.5px;top:221.9px" width="11" height="11" viewBox="0 0 11 11">
<circle cx="5.2" cy="5.2" r="4.6" fill="none" stroke="#a8a7a3" stroke-width="1.1"/><path d="M3.2 4.0 H7.2 L5.2 6.8 Z" fill="#a8a7a3"/></svg><div class="a t g" style="left:1088px;top:218.9px;">S</div><div class="hl" style="left:124px;top:238px;width:969px"></div><div class="a b" style="left:147.5px;top:244.1px;"><span class="ul">Now This is Also Accepted Dammit But</span><br><span class="ul">Has No URL</span></div><div class="a t" style="left:492.5px;top:244.1px;">Jack Milton, Soupy Dimsum,<br>Nerdy Momo Cat, Tempura<br>Shrimp</div><div class="a t" style="left:637.5px;top:244.1px;">Comfy Pajamas</div><div class="a t" style="left:782.5px;top:244.1px;">2021</div><div class="a t" style="left:927.5px;top:244.1px;">tldr: It works! Hella yes!</div><div class="tag" style="left:1072.5px;top:244.8px;width:21.5px;background:#e8deee;color:#412454">Acc</div><div class="vl" style="left:341px;top:240px;height:53px"></div><div class="vl" style="left:486px;top:240px;height:53px"></div><div class="vl" style="left:631px;top:240px;height:53px"></div><div class="vl" style="left:776px;top:240px;height:53px"></div><div class="vl" style="left:921px;top:240px;height:53px"></div><div class="vl" style="left:1066px;top:240px;height:53px"></div><div class="hl" style="left:124px;top:293px;width:969px"></div><div class="a b" style="left:147.5px;top:298.0px;"><span class="ul">Now This is Also Accepted Dammit</span></div><div class="a t" style="left:347.5px;top:298.0px;"><span class="ul">www.common.com/paper22</span></div><div class="a t" style="left:492.5px;top:298.0px;">Jack Milton, Soupy Dimsum,<br>Nerdy Momo Cat, Tempura<br>Shrimp</div><div class="a t" style="left:637.5px;top:298.0px;">CommonCommon</div><div class="a t" style="left:782.5px;top:298.0px;">2023</div><div class="tag" style="left:1072.5px;top:299.8px;width:21.5px;background:#e8deee;color:#412454">Acc</div><div class="vl" style="left:341px;top:295px;height:52px"></div><div class="vl" style="left:486px;top:295px;height:52px"></div><div class="vl" style="left:631px;top:295px;height:52px"></div><div class="vl" style="left:776px;top:295px;height:52px"></div><div class="vl" style="left:921px;top:295px;height:52px"></div><div class="vl" style="left:1066px;top:295px;height:52px"></div><div class="hl" style="left:124px;top:347px;width:969px"></div><div class="a b" style="left:147.5px;top:351.9px;"><span class="ul">Now This is Also Accepted Dammit</span></div><div class="a t" style="left:347.5px;top:351.9px;"><span class="ul">Replace with URL if exists</span></div><div class="a t" style="left:492.5px;top:351.9px;">Replace with Authors</div><div class="a t" style="left:637.5px;top:351.9px;">Replace with Publication<br>Venue</div><div class="a t" style="left:782.5px;top:351.9px;">Replace with Publication<br>Venue Year</div><div class="tag" style="left:1072.5px;top:353.8px;width:21.5px;background:#e8deee;color:#412454">Acc</div><div class="vl" style="left:341px;top:349px;height:37px"></div><div class="vl" style="left:486px;top:349px;height:37px"></div><div class="vl" style="left:631px;top:349px;height:37px"></div><div class="vl" style="left:776px;top:349px;height:37px"></div><div class="vl" style="left:921px;top:349px;height:37px"></div><div class="vl" style="left:1066px;top:349px;height:37px"></div><div class="hl" style="left:124px;top:386px;width:969px"></div><div class="a b" style="left:147.5px;top:391.3px;"><span class="ul">Now This is Accepted Dammit</span></div><div class="a t" style="left:347.5px;top:391.3px;"><span class="ul">www.webconf.com/paperid2</span><br><span class="ul">223</span></div><div class="a t" style="left:492.5px;top:391.3px;">Jack Milton, Nerdy Momo<br>Cat, Tempura Shrimp</div><div class="a t" style="left:637.5px;top:391.3px;">Webconf</div><div class="a t" style="left:782.5px;top:391.3px;">2018</div><div class="tag" style="left:1072.5px;top:392.8px;width:21.5px;background:#e8deee;color:#412454">Acc</div><div class="vl" style="left:341px;top:388px;height:36px"></div><div class="vl" style="left:486px;top:388px;height:36px"></div><div class="vl" style="left:631px;top:388px;height:36px"></div><div class="vl" style="left:776px;top:388px;height:36px"></div><div class="vl" style="left:921px;top:388px;height:36px"></div><div class="vl" style="left:1066px;top:388px;height:36px"></div><div class="hl" style="left:124px;top:424px;width:969px"></div><svg class="i" style="left:130px;top:433.2px" width="8.5" height="8.5" viewBox="0 0 8.5 8.5"><path d="M4.25 0 V8.5 M0 4.25 H8.5" stroke="#b0afab" stroke-width="1.1"/></svg><div class="a t" style="left:144px;top:429.8px;color:#9d9c98">New</div><div class="hl" style="left:124px;top:448px;width:969px"></div><svg class="i" style="left:130px;top:488.40000000000003px" width="6" height="5" viewBox="0 0 6 5"><path d="M0 0 H6 L3 5 Z" fill="#37352f"/></svg><svg class="i" style="left:145.8px;top:484.5px" width="10" height="11" viewBox="0 0 10 11">
<path d="M0 0.6 L1.1 1.5 L2.2 0.5 L3.3 1.5 L4.4 0.5 L5.5 1.5 L6.6 0.5 L7.7 1.5 L9.3 0.6 V9.3 C9.3 10 8.8 10.5 8.1 10.5 H1.2 C0.5 10.5 0 10 0 9.3 Z" fill="#4a4843"/>
<rect x="1.4" y="3.2" width="6.7" height="1.2" fill="#b8b7b3"/>
<circle cx="2.7" cy="7.3" r="1.45" fill="#fff"/><rect x="5.2" y="5.7" width="2.9" height="1.1" fill="#c4c3bf"/><rect x="5.2" y="7.6" width="2.9" height="1.1" fill="#c4c3bf"/></svg><div class="a b" style="left:161.5px;top:482.6px;"><span class="ul" style="padding-bottom:1px">Works in Progress</span></div><div class="a t g" style="left:258.5px;top:482.6px;color:#94938f;font-size:11px">2</div><svg class="i" style="left:274px;top:489.40000000000003px" width="12" height="3" viewBox="0 0 12 3"><circle cx="1.1" cy="1.5" r="1.1" fill="#7f7e7a"/><circle cx="4.7" cy="1.5" r="1.1" fill="#7f7e7a"/><circle cx="8.3" cy="1.5" r="1.1" fill="#7f7e7a"/></svg><svg class="i" style="left:291.5px;top:485.6px" width="9" height="9" viewBox="0 0 9 9"><path d="M4.5 0 V9 M0 4.5 H9" stroke="#b0afab" stroke-width="1.1"/></svg><div class="a" style="left:146.5px;top:507.6px;font-size:10px;line-height:15.5px;color:#b9b8b5">Aa</div><div class="a t g" style="left:163.5px;top:506.6px;">Name</div><svg class="i" style="left:347px;top:509.1px" width="12" height="12" viewBox="0 0 12 12">
<path d="M5.2 3.4 L6.9 1.7 C7.8 0.8 9.3 0.8 10.2 1.7 C11.1 2.6 11.1 4.1 10.2 5 L8.5 6.7 C7.6 7.6 6.2 7.6 5.3 6.8" fill="none" stroke="#a8a7a3" stroke-width="1.1"/>
<path d="M6.8 8.6 L5.1 10.3 C4.2 11.2 2.7 11.2 1.8 10.3 C0.9 9.4 0.9 7.9 1.8 7 L3.5 5.3 C4.4 4.4 5.8 4.4 6.7 5.2" fill="none" stroke="#a8a7a3" stroke-width="1.1"/></svg><div class="a t g" style="left:363.5px;top:506.6px;">URL</div><svg class="i" style="left:493px;top:509.8px" width="11" height="10" viewBox="0 0 11 10">
<path d="M0 1 H10 M0 3.7 H10 M0 6.3 H10 M0 9 H5.8" stroke="#b3b2ae" stroke-width="0.9"/></svg><div class="a t g" style="left:508.5px;top:506.6px;">People</div><svg class="i" style="left:638px;top:509.8px" width="11" height="10" viewBox="0 0 11 10">
<path d="M0 1 H10 M0 3.7 H10 M0 6.3 H10 M0 9 H5.8" stroke="#b3b2ae" stroke-width="0.9"/></svg><div class="a t g" style="left:653.5px;top:506.6px;">Organization</div><svg class="i" style="left:783px;top:509.8px" width="11" height="10" viewBox="0 0 11 10">
<path d="M0 1 H10 M0 3.7 H10 M0 6.3 H10 M0 9 H5.8" stroke="#b3b2ae" stroke-width="0.9"/></svg><div class="a t g" style="left:798.5px;top:506.6px;">Time</div><svg class="i" style="left:928px;top:509.8px" width="11" height="10" viewBox="0 0 11 10">
<path d="M0 1 H10 M0 3.7 H10 M0 6.3 H10 M0 9 H5.8" stroke="#b3b2ae" stroke-width="0.9"/></svg><div class="a t g" style="left:943.5px;top:506.6px;">Comments</div><svg class="i" style="left:1072.5px;top:509.6px" width="11" height="11" viewBox="0 0 11 11">
<circle cx="5.2" cy="5.2" r="4.6" fill="none" stroke="#a8a7a3" stroke-width="1.1"/><path d="M3.2 4.0 H7.2 L5.2 6.8 Z" fill="#a8a7a3"/></svg><div class="a t g" style="left:1088px;top:506.6px;">S</div><div class="hl" style="left:124px;top:526px;width:969px"></div><div class="a b" style="left:147.5px;top:531.8px;"><span class="ul">This is a also stupid paper</span></div><div class="a t" style="left:492.5px;top:531.8px;">Nerdy Momo Cat, Jack<br>Milton</div><div class="vl" style="left:341px;top:528px;height:38px"></div><div class="vl" style="left:486px;top:528px;height:38px"></div><div class="vl" style="left:631px;top:528px;height:38px"></div><div class="vl" style="left:776px;top:528px;height:38px"></div><div class="vl" style="left:921px;top:528px;height:38px"></div><div class="vl" style="left:1066px;top:528px;height:38px"></div><div class="hl" style="left:124px;top:566px;width:969px"></div><div class="a b" style="left:147.5px;top:570.8px;"><span class="ul">This is a stupid paper</span></div><div class="a t" style="left:347.5px;top:570.8px;"><span class="ul">www.arxiv.com/thisstupidpa</span><br><span class="ul">perdoesnotexits</span></div><div class="a t" style="left:492.5px;top:570.8px;">Nerdy Momo Cat, Jack<br>Milton</div><div class="vl" style="left:341px;top:568px;height:37px"></div><div class="vl" style="left:486px;top:568px;height:37px"></div><div class="vl" style="left:631px;top:568px;height:37px"></div><div class="vl" style="left:776px;top:568px;height:37px"></div><div class="vl" style="left:921px;top:568px;height:37px"></div><div class="vl" style="left:1066px;top:568px;height:37px"></div><div class="hl" style="left:124px;top:605px;width:969px"></div><svg class="i" style="left:130px;top:612.8000000000001px" width="8.5" height="8.5" viewBox="0 0 8.5 8.5"><path d="M4.25 0 V8.5 M0 4.25 H8.5" stroke="#b0afab" stroke-width="1.1"/></svg><div class="a t" style="left:144px;top:609.4px;color:#9d9c98">New</div><div class="hl" style="left:124px;top:628px;width:969px"></div><svg class="i" style="left:130px;top:667.9px" width="6" height="5" viewBox="0 0 6 5"><path d="M0 0 H6 L3 5 Z" fill="#37352f"/></svg><svg class="i" style="left:145.4px;top:664.6px" width="11" height="11" viewBox="0 0 11 11">
<path d="M0.4 2.8 L10.4 0.4 L7.6 10.2 L5.6 6.6 L2.4 7.8 L3.6 4.8 Z" fill="#46443f"/>
<path d="M4.6 5.4 L8.4 2.2 L6 6.4 Z" fill="#fff"/></svg><div class="a b" style="left:161.5px;top:662.1px;"><span class="ul" style="padding-bottom:1px">Submitted Publications</span></div><div class="a t g" style="left:283.3px;top:662.1px;color:#94938f;font-size:11px">2</div><svg class="i" style="left:298px;top:668.9px" width="12" height="3" viewBox="0 0 12 3"><circle cx="1.1" cy="1.5" r="1.1" fill="#7f7e7a"/><circle cx="4.7" cy="1.5" r="1.1" fill="#7f7e7a"/><circle cx="8.3" cy="1.5" r="1.1" fill="#7f7e7a"/></svg><svg class="i" style="left:316.7px;top:665.1px" width="9" height="9" viewBox="0 0 9 9"><path d="M4.5 0 V9 M0 4.5 H9" stroke="#b0afab" stroke-width="1.1"/></svg><div class="a" style="left:146.5px;top:687.1px;font-size:10px;line-height:15.5px;color:#b9b8b5">Aa</div><div class="a t g" style="left:163.5px;top:686.1px;">Name</div><svg class="i" style="left:347px;top:688.6px" width="12" height="12" viewBox="0 0 12 12">
<path d="M5.2 3.4 L6.9 1.7 C7.8 0.8 9.3 0.8 10.2 1.7 C11.1 2.6 11.1 4.1 10.2 5 L8.5 6.7 C7.6 7.6 6.2 7.6 5.3 6.8" fill="none" stroke="#a8a7a3" stroke-width="1.1"/>
<path d="M6.8 8.6 L5.1 10.3 C4.2 11.2 2.7 11.2 1.8 10.3 C0.9 9.4 0.9 7.9 1.8 7 L3.5 5.3 C4.4 4.4 5.8 4.4 6.7 5.2" fill="none" stroke="#a8a7a3" stroke-width="1.1"/></svg><div class="a t g" style="left:363.5px;top:686.1px;">URL</div><svg class="i" style="left:493px;top:689.3000000000001px" width="11" height="10" viewBox="0 0 11 10">
<path d="M0 1 H10 M0 3.7 H10 M0 6.3 H10 M0 9 H5.8" stroke="#b3b2ae" stroke-width="0.9"/></svg><div class="a t g" style="left:508.5px;top:686.1px;">People</div><svg class="i" style="left:638px;top:689.3000000000001px" width="11" height="10" viewBox="0 0 11 10">
<path d="M0 1 H10 M0 3.7 H10 M0 6.3 H10 M0 9 H5.8" stroke="#b3b2ae" stroke-width="0.9"/></svg><div class="a t g" style="left:653.5px;top:686.1px;">Organization</div><svg class="i" style="left:783px;top:689.3000000000001px" width="11" height="10" viewBox="0 0 11 10">
<path d="M0 1 H10 M0 3.7 H10 M0 6.3 H10 M0 9 H5.8" stroke="#b3b2ae" stroke-width="0.9"/></svg><div class="a t g" style="left:798.5px;top:686.1px;">Time</div><svg class="i" style="left:928px;top:689.3000000000001px" width="11" height="10" viewBox="0 0 11 10">
<path d="M0 1 H10 M0 3.7 H10 M0 6.3 H10 M0 9 H5.8" stroke="#b3b2ae" stroke-width="0.9"/></svg><div class="a t g" style="left:943.5px;top:686.1px;">Comments</div><svg class="i" style="left:1072.5px;top:689.1px" width="11" height="11" viewBox="0 0 11 11">
<circle cx="5.2" cy="5.2" r="4.6" fill="none" stroke="#a8a7a3" stroke-width="1.1"/><path d="M3.2 4.0 H7.2 L5.2 6.8 Z" fill="#a8a7a3"/></svg><div class="a t g" style="left:1088px;top:686.1px;">S</div><div class="hl" style="left:124px;top:706px;width:969px"></div><div class="a b" style="left:147.5px;top:711.6px;"><span class="ul">Submitted Paper 2 Title That Is So</span><br><span class="ul">Damn Freaking Long That It Keeps</span><br><span class="ul">Going On</span></div><div class="a t" style="left:347.5px;top:711.6px;"><span class="ul">www.arxiv.com/sub2freakin</span><br><span class="ul">glong</span></div><div class="a t" style="left:492.5px;top:711.6px;">Nerdy Momo Cat, Zakary<br>Milton, Jack Milton</div><div class="a t" style="left:637.5px;top:711.6px;">WebConf</div><div class="a t" style="left:782.5px;top:711.6px;">2022</div><div class="tag" style="left:1072.5px;top:712.8px;width:21.5px;background:#f5e0e9;color:#4c2337">Sub</div><div class="vl" style="left:341px;top:708px;height:52px"></div><div class="vl" style="left:486px;top:708px;height:52px"></div><div class="vl" style="left:631px;top:708px;height:52px"></div><div class="vl" style="left:776px;top:708px;height:52px"></div><div class="vl" style="left:921px;top:708px;height:52px"></div><div class="vl" style="left:1066px;top:708px;height:52px"></div><div class="hl" style="left:124px;top:760px;width:969px"></div><div class="a b" style="left:147.5px;top:765.6px;"><span class="ul">Submitted Paper 1 Title That Is So</span><br><span class="ul">Damn Freaking Long That It Keeps</span><br><span class="ul">Going On</span></div><div class="a t" style="left:347.5px;top:765.6px;"><span class="ul">www.arxiv.com/subpapertitl</span><br><span class="ul">efreaking</span></div><div class="a t" style="left:492.5px;top:765.6px;">Nerdy Momo Cat, Jack<br>Milton, Zark Muckerberg</div><div class="a t" style="left:637.5px;top:765.6px;">WebConf</div><div class="a t" style="left:782.5px;top:765.6px;">2021</div><div class="tag" style="left:1072.5px;top:766.8px;width:21.5px;background:#f5e0e9;color:#4c2337">Sub</div><div class="vl" style="left:341px;top:762px;height:52px"></div><div class="vl" style="left:486px;top:762px;height:52px"></div><div class="vl" style="left:631px;top:762px;height:52px"></div><div class="vl" style="left:776px;top:762px;height:52px"></div><div class="vl" style="left:921px;top:762px;height:52px"></div><div class="vl" style="left:1066px;top:762px;height:52px"></div><div class="hl" style="left:124px;top:814px;width:969px"></div><svg class="i" style="left:130px;top:822.8000000000001px" width="8.5" height="8.5" viewBox="0 0 8.5 8.5"><path d="M4.25 0 V8.5 M0 4.25 H8.5" stroke="#b0afab" stroke-width="1.1"/></svg><div class="a t" style="left:144px;top:819.4px;color:#9d9c98">New</div><div class="hl" style="left:124px;top:837px;width:969px"></div><div class="a" style="left:289.5px;top:569.5px;width:48px;height:18px;background:#fff;border-radius:4px;box-shadow:0 0 0 1px rgba(15,15,15,0.08),0 1px 2px rgba(15,15,15,0.08)"></div><svg class="i" style="left:294px;top:574.3px" width="10" height="8" viewBox="0 0 10 8">
<rect x="0.5" y="0.5" width="9.2" height="7.4" rx="1.5" fill="none" stroke="#aeada9" stroke-width="0.9"/><rect x="5.2" y="1.4" width="3.4" height="5.6" fill="#aeada9"/></svg><div class="a" style="left:307.6px;top:573px;font-size:8.6px;line-height:10px;letter-spacing:0.55px;color:#73726e;-webkit-text-stroke-width:0.15px">OPEN</div><svg class="i" style="left:96.2px;top:573px" width="9.4" height="9.4" viewBox="0 0 9.4 9.4"><path d="M4.7 0 V9.4 M0 4.7 H9.4" stroke="#b5b4b0" stroke-width="1.3"/></svg><svg class="i" style="left:113px;top:572.5px" width="6" height="10" viewBox="0 0 6 10">
<circle cx="1.1" cy="1.1" r="0.95" fill="#b5b4b0"/><circle cx="5.1" cy="1.1" r="0.95" fill="#b5b4b0"/>
<circle cx="1.1" cy="5.1" r="0.95" fill="#b5b4b0"/><circle cx="5.1" cy="5.1" r="0.95" fill="#b5b4b0"/>
<circle cx="1.1" cy="9.2" r="0.95" fill="#b5b4b0"/><circle cx="5.1" cy="9.2" r="0.95" fill="#b5b4b0"/></svg><svg class="i" style="left:129.5px;top:869.3px" width="9" height="6" viewBox="0 0 9 6"><path d="M0.6 0.6 L4.5 4.6 L8.4 0.6" fill="none" stroke="#a5a4a1" stroke-width="1.1"/></svg><div class="a t" style="left:143.5px;top:864.2px;color:#9d9c98">3 hidden groups</div><svg class="i" style="left:130px;top:892px" width="8.5" height="8.5" viewBox="0 0 8.5 8.5"><path d="M4.25 0 V8.5 M0 4.25 H8.5" stroke="#b0afab" stroke-width="1.1"/></svg><div class="a t" style="left:143.5px;top:888.4px;color:#9d9c98">Add a group</div>
</div></body></html>
